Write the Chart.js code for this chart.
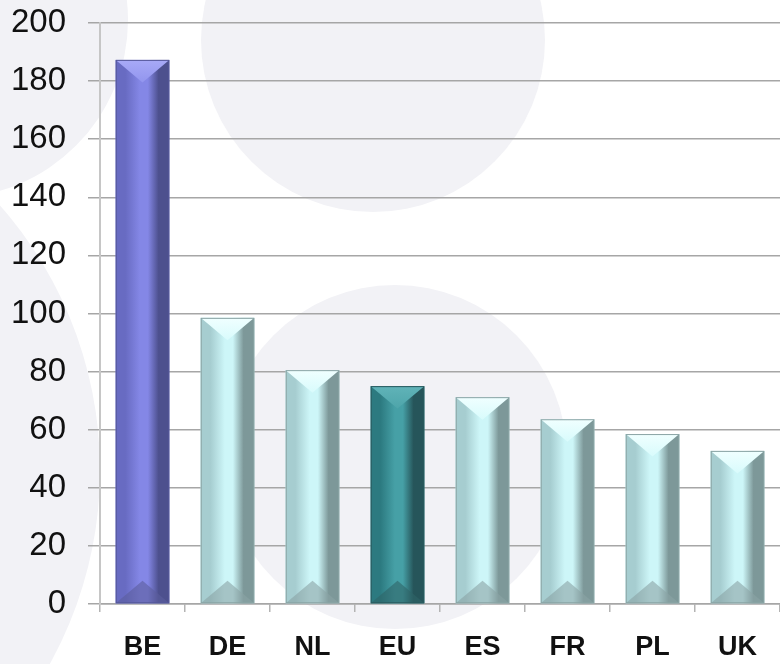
<!DOCTYPE html>
<html><head><meta charset="utf-8">
<script src="https://cdn.jsdelivr.net/npm/chart.js@4/dist/chart.umd.min.js"></script>
<style>html,body{margin:0;padding:0;background:#fff}#wrap{width:780px;height:664px;position:relative}</style>
</head><body><div id="wrap"><canvas id="c" width="780" height="664"></canvas></div>
<script>
const categories = ['BE', 'DE', 'NL', 'EU', 'ES', 'FR', 'PL', 'UK'];
const values = [187.3, 98.5, 80.5, 75, 71.2, 63.6, 58.5, 52.7];
const yTicks = [0, 20, 40, 60, 80, 100, 120, 140, 160, 180, 200];
const barStyleKeys = ['blue', 'light', 'light', 'teal', 'light', 'light', 'light', 'light'];

const palettes = {
  light: {left:'#a6cdd0', mid:'#cdf6f8', right:'#7d9899', top1:'#f0ffff', top2:'#d8fbfc', bottom:'#8aa4a5', border:'#8aa4a5'},
  blue:  {left:'#686bc2', mid:'#8487e6', right:'#4d508e', top1:'#a8aaf7', top2:'#9295ee', bottom:'#5c5e9c', border:'#55589a'},
  teal:  {left:'#2c7a80', mid:'#46a0a6', right:'#26555a', top1:'#60b3b8', top2:'#4ea5aa', bottom:'#2f6468', border:'#2a5b5f'}
};

const bgPlugin = {
  id: 'bg',
  beforeDraw(chart) {
    const c = chart.ctx;
    c.save();
    c.fillStyle = '#ffffff';
    c.fillRect(0, 0, chart.width, chart.height);
    c.fillStyle = '#f2f2f6';
    const circles = [[373, 40, 172], [395, 457, 172], [-50, 20, 178], [-300, 470, 400]];
    circles.forEach(([x, y, r]) => { c.beginPath(); c.arc(x, y, r, 0, Math.PI * 2); c.fill(); });
    c.restore();
  }
};

const bevelPlugin = {
  id: 'bevel',
  afterDatasetsDraw(chart) {
    const c = chart.ctx;
    const meta = chart.getDatasetMeta(0);
    meta.data.forEach((el, i) => {
      const p = palettes[barStyleKeys[i]];
      const L = el.x - el.width / 2, R = el.x + el.width / 2;
      const T = Math.min(el.y, el.base), B = Math.max(el.y, el.base);
      const w = R - L, d = w * 0.42, cx = el.x;
      c.save();
      const g = c.createLinearGradient(L, 0, R, 0);
      g.addColorStop(0, p.left);
      g.addColorStop(0.18, p.left);
      g.addColorStop(0.45, p.mid);
      g.addColorStop(0.6, p.mid);
      g.addColorStop(0.8, p.right);
      g.addColorStop(1, p.right);
      c.fillStyle = g;
      c.fillRect(L, T, w, B - T);
      const gt = c.createLinearGradient(0, T, 0, T + d);
      gt.addColorStop(0, p.top1);
      gt.addColorStop(1, p.top2);
      c.fillStyle = gt;
      c.beginPath(); c.moveTo(L, T); c.lineTo(R, T); c.lineTo(cx, T + d); c.closePath(); c.fill();
      c.globalAlpha = 0.6;
      c.fillStyle = p.bottom;
      c.beginPath(); c.moveTo(L, B); c.lineTo(R, B); c.lineTo(cx, B - d); c.closePath(); c.fill();
      c.globalAlpha = 1;
      c.strokeStyle = p.border;
      c.lineWidth = 1;
      c.strokeRect(L + 0.5, T + 0.5, w - 1, B - T - 1);
      c.restore();
    });
  }
};

new Chart(document.getElementById('c'), {
  type: 'bar',
  data: {
    labels: categories,
    datasets: [{
      data: values,
      backgroundColor: barStyleKeys.map(k => palettes[k].mid),
      borderWidth: 0,
      barPercentage: 0.63,
      categoryPercentage: 1
    }]
  },
  options: {
    responsive: false,
    devicePixelRatio: 1,
    animation: false,
    layout: {padding: {top: 23, right: 0, left: 0, bottom: 0}},
    plugins: {legend: {display: false}, tooltip: {enabled: false}},
    scales: {
      x: {
        grid: {drawOnChartArea: false, offset: true, tickLength: 8, color: '#b4b4b4', lineWidth: 1.5},
        border: {display: true, color: '#a6a6a6', width: 1.5},
        ticks: {font: {family: "'Liberation Sans', Arial, sans-serif", size: 27, weight: 'bold'}, color: '#111', padding: 19},
        afterFit: s => { s.height = 60; s.paddingLeft = 0; s.paddingRight = 0; }
      },
      y: {
        min: 0, max: 200,
        afterBuildTicks: a => { a.ticks = yTicks.map(v => ({value: v})); },
        grid: {color: '#a6a6a6', lineWidth: 1.5, tickLength: 12},
        border: {display: true, color: '#c6c6c6', width: 2},
        ticks: {font: {family: "'Liberation Sans', Arial, sans-serif", size: 33}, color: '#111', padding: 22},
        afterFit: s => { s.width = 100; s.paddingTop = 0; s.paddingBottom = 0; }
      }
    }
  },
  plugins: [bgPlugin, bevelPlugin]
});
</script>
</body></html>
